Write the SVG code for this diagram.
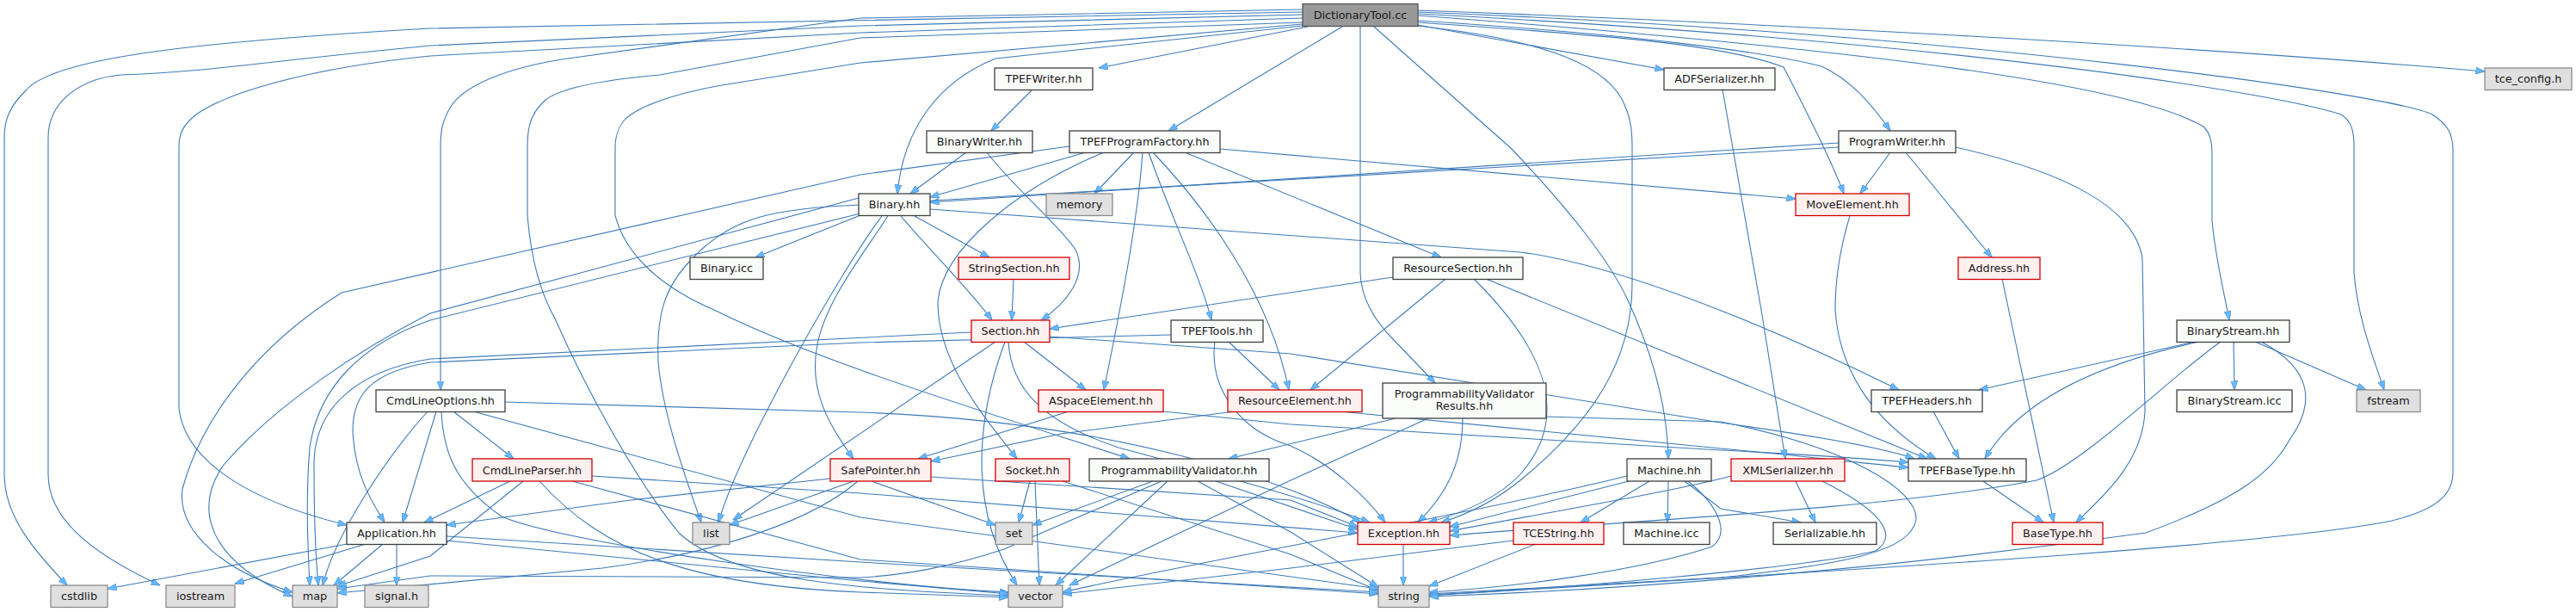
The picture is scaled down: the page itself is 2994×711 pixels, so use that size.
<svg xmlns="http://www.w3.org/2000/svg" width="2994" height="711" viewBox="0 0 2994 711">
<defs>
<marker id="a" viewBox="0 0 11 8" markerWidth="11" markerHeight="8" refX="10.5" refY="4" orient="auto" markerUnits="userSpaceOnUse">
<path d="M0,0 L11,4 L0,8 z" fill="#63b8ff" stroke="#3f7fbf" stroke-width="0.6"/>
</marker>
<style>
.e{fill:none;stroke:#3d7ab8;stroke-width:1.1;marker-end:url(#a)}
.n rect{fill:#fafcfa;stroke:#404040;stroke-width:1.3}
.r rect{fill:#fff0f0;stroke:#d00000;stroke-width:1.3}
.g rect{fill:#e0e0e0;stroke:#8c8c8c;stroke-width:1.3}
.root rect{fill:#999999;stroke:#555555;stroke-width:1.3}
text{font-family:"DejaVu Sans","Liberation Sans",sans-serif;font-size:12.8px;fill:#1a1a1a;text-anchor:middle}
</style>
</defs>
<rect width="2994" height="711" fill="white"/>
<g id="edges">
<path class="e" d="M1514,14 L500,33 C200,50 60,70 30,105 C10,125 5,140 5,160 L5,551 C5,600 40,640 78,680"/>
<path class="e" d="M1514,17 L1000,30 L500,53 C300,72 240,84 140,87 C90,92 56,120 56,160 L56,551 C56,600 100,640 186,680"/>
<path class="e" d="M1514,21 L1000,38 L500,65 C350,80 260,110 228,133 C213,145 208,155 208,170 L208,474 C215,540 300,585 403,610"/>
<path class="e" d="M1514,11 L1000,21 L667,67 C600,76 545,95 525,122 C515,138 512,150 512,170 L512,453"/>
<path class="e" d="M1514,26 L1000,44 L767,87 C700,93 650,102 633,117 C617,132 613,147 613,170 L613,250 C617,300 628,340 645,370 C680,450 740,560 790,620 C850,675 1000,685 1172,692"/>
<path class="e" d="M1514,28 L1000,73 L833,100 C780,110 742,124 727,138 C718,148 715,158 715,172 L715,250 C725,290 760,330 830,360 C950,420 1150,480 1313,533"/>
<path class="e" d="M1514,30 L1157,68 C1090,95 1050,150 1043,225"/>
<path class="e" d="M1520,31 L1277,79"/>
<path class="e" d="M1560,31 L1358,152"/>
<path class="e" d="M1581,31 L1581,317 C1582,350 1600,375 1620,395 L1668,445"/>
<path class="e" d="M1597,31 L1757,173 C1820,240 1870,300 1893,351 C1920,410 1938,470 1939,533"/>
<path class="e" d="M1648,30 C1780,45 1860,70 1885,115 C1895,135 1897,150 1897,170 L1897,330 C1897,420 1850,490 1767,558 C1740,580 1710,596 1675,607"/>
<path class="e" d="M1648,29 L1934,81"/>
<path class="e" d="M1648,26 C1850,40 2000,50 2073,78 C2100,130 2130,190 2143,225"/>
<path class="e" d="M1648,24 C1900,40 2050,60 2117,77 C2150,92 2175,120 2197,152"/>
<path class="e" d="M1648,12 C2000,25 2500,50 2888,83"/>
<path class="e" d="M1648,18 C2200,60 2480,100 2561,147 C2569,155 2571,165 2571,180 L2571,257 C2575,300 2585,340 2591,372"/>
<path class="e" d="M1648,16 C2300,50 2650,110 2721,133 C2732,140 2736,150 2736,170 L2736,317 C2740,370 2760,420 2771,453"/>
<path class="e" d="M1648,14 C2300,40 2780,110 2827,133 C2845,145 2851,155 2851,175 L2851,548 C2851,570 2840,590 2780,605 C2600,640 2000,670 1661,692"/>
<path class="e" d="M1200,104 L1152,152"/>
<path class="e" d="M1123,177 L1058,225"/>
<path class="e" d="M1147,177 C1180,220 1230,260 1250,290 C1265,320 1240,352 1210,372"/>
<path class="e" d="M1262,177 L1081,229"/>
<path class="e" d="M1318,177 L1272,225"/>
<path class="e" d="M1418,173 L2087,231"/>
<path class="e" d="M1377,177 L1675,299"/>
<path class="e" d="M1328,177 C1322,260 1302,360 1283,453"/>
<path class="e" d="M1335,177 C1360,250 1395,320 1408,372"/>
<path class="e" d="M1340,177 C1400,240 1475,340 1498,453"/>
<path class="e" d="M1283,177 C1180,220 1095,290 1090,351 C1090,420 1140,480 1182,533"/>
<path class="e" d="M1243,170 L1000,203 L397,340 C300,401 235,484 212,568 C205,620 265,665 340,688"/>
<path class="e" d="M2137,166 L1081,235"/>
<path class="e" d="M2137,171 L1000,238 C900,242 850,252 805,300 C770,335 763,370 765,420 C770,480 795,550 815,607"/>
<path class="e" d="M2197,177 L2162,225"/>
<path class="e" d="M2215,177 L2315,299"/>
<path class="e" d="M2273,171 C2400,200 2480,240 2490,300 L2493,478 C2490,540 2440,580 2413,607"/>
<path class="e" d="M1000,250 L878,299"/>
<path class="e" d="M1063,251 L1150,299"/>
<path class="e" d="M1047,251 C1080,290 1130,340 1153,372"/>
<path class="e" d="M1032,251 C1000,300 960,350 950,400 C940,450 960,490 992,533"/>
<path class="e" d="M1025,251 C980,310 860,520 835,607"/>
<path class="e" d="M998,230 L500,364 C420,405 320,470 260,540 C225,590 240,650 340,693"/>
<path class="e" d="M1000,248 L500,372 C420,400 370,450 360,520 C355,580 358,640 360,680"/>
<path class="e" d="M1081,243 L1767,293 C1900,310 2100,400 2207,453"/>
<path class="e" d="M1178,324 L1176,372"/>
<path class="e" d="M1619,322 L1220,382"/>
<path class="e" d="M1680,324 L1523,453"/>
<path class="e" d="M1713,324 C1790,400 1830,480 1767,551 C1740,580 1700,596 1660,607"/>
<path class="e" d="M1727,324 L2240,533"/>
<path class="e" d="M1190,397 L1262,453"/>
<path class="e" d="M1157,397 L852,604"/>
<path class="e" d="M1168,397 C1130,500 1130,600 1182,680"/>
<path class="e" d="M1172,397 C1175,450 1210,490 1300,520 C1450,560 1550,590 1592,607"/>
<path class="e" d="M1129,386 L500,417 C420,430 365,470 365,540 C365,600 367,650 370,680"/>
<path class="e" d="M1220,391 L1500,411 L2000,491 C2100,505 2190,520 2225,533"/>
<path class="e" d="M1361,389 L1000,398 L500,421 C430,432 410,460 410,500 C412,550 430,580 447,607"/>
<path class="e" d="M1428,397 L1487,453"/>
<path class="e" d="M1412,397 C1405,450 1440,500 1500,518 C1550,540 1590,580 1610,607"/>
<path class="e" d="M1242,478 L1067,533"/>
<path class="e" d="M1352,478 L1500,493 L2000,523 C2100,528 2180,534 2218,537"/>
<path class="e" d="M1435,478 L1233,504 L1082,536"/>
<path class="e" d="M1557,478 L2000,521 C2100,530 2180,540 2218,543"/>
<path class="e" d="M1622,486 L1428,533"/>
<path class="e" d="M1700,486 C1700,540 1680,575 1648,607"/>
<path class="e" d="M1660,486 L1500,558 L1243,680"/>
<path class="e" d="M1797,484 L2000,490 C2150,520 2230,570 2227,604 C2220,640 2150,655 2000,671 L1661,690"/>
<path class="e" d="M1340,559 L1200,610"/>
<path class="e" d="M1357,559 L1227,680"/>
<path class="e" d="M1392,559 L1500,618 L1602,682"/>
<path class="e" d="M1413,559 L1578,615"/>
<path class="e" d="M1350,559 L1167,638 C1100,660 1050,668 1000,671 L500,669 L392,684"/>
<path class="e" d="M965,556 L733,581 L519,610"/>
<path class="e" d="M992,559 L848,610"/>
<path class="e" d="M1013,559 L1157,610"/>
<path class="e" d="M1082,554 L1500,581 L1578,612"/>
<path class="e" d="M997,559 C950,600 850,640 700,660 L392,689"/>
<path class="e" d="M1197,559 L1184,607"/>
<path class="e" d="M1203,559 L1208,680"/>
<path class="e" d="M1235,559 L1500,644 L1602,686"/>
<path class="e" d="M527,478 L597,533"/>
<path class="e" d="M507,478 L468,607"/>
<path class="e" d="M497,478 C450,530 390,620 375,680"/>
<path class="e" d="M513,478 C515,520 525,560 583,600 C650,630 1000,680 1172,688"/>
<path class="e" d="M550,478 L1000,601 L1602,684"/>
<path class="e" d="M587,467 L1000,479 C1300,490 1500,560 1582,607"/>
<path class="e" d="M593,559 L493,607"/>
<path class="e" d="M608,559 L500,646 L392,681"/>
<path class="e" d="M627,559 C700,640 800,680 1000,688 L1172,694"/>
<path class="e" d="M665,559 L1000,650 L1602,690"/>
<path class="e" d="M688,553 L1000,573 L1578,619"/>
<path class="e" d="M403,632 L125,684"/>
<path class="e" d="M425,632 L273,678"/>
<path class="e" d="M445,632 L388,680"/>
<path class="e" d="M461,632 L461,680"/>
<path class="e" d="M519,623 L1000,653 L1602,688"/>
<path class="e" d="M519,628 L1000,675 L1172,690"/>
<path class="e" d="M1631,632 L1631,680"/>
<path class="e" d="M1785,632 L1661,681"/>
<path class="e" d="M1759,628 L1500,660 L1235,690"/>
<path class="e" d="M1893,559 L1685,612"/>
<path class="e" d="M1917,559 L1837,607"/>
<path class="e" d="M1939,559 L1938,607"/>
<path class="e" d="M1958,559 L2000,591 L2093,607"/>
<path class="e" d="M1962,559 C2000,590 2010,620 1990,635 C1900,665 1750,683 1661,688"/>
<path class="e" d="M1891,553 C1700,600 1400,650 1235,688"/>
<path class="e" d="M2012,553 C1950,570 1800,595 1685,617"/>
<path class="e" d="M2087,559 L2110,607"/>
<path class="e" d="M2118,559 C2180,590 2210,620 2180,640 C2100,660 1800,685 1661,691"/>
<path class="e" d="M2002,104 L2047,360 L2075,533"/>
<path class="e" d="M2150,251 C2135,300 2133,340 2133,360 C2137,420 2167,484 2250,533"/>
<path class="e" d="M2327,324 L2387,607"/>
<path class="e" d="M2247,478 L2277,533"/>
<path class="e" d="M2305,559 L2375,607"/>
<path class="e" d="M2596,397 L2597,453"/>
<path class="e" d="M2621,397 L2750,453"/>
<path class="e" d="M2551,397 L2300,453"/>
<path class="e" d="M2556,397 C2450,420 2350,460 2307,533"/>
<path class="e" d="M2581,397 C2520,440 2420,540 2367,558 C2200,590 1900,605 1685,622"/>
<path class="e" d="M2628,397 C2690,430 2690,470 2661,511 C2640,550 2600,580 2494,619 C2200,660 1900,685 1661,693"/>
</g>
<g id="n_root" class="root"><rect x="1514" y="4.5" width="134" height="26"/><text x="1581" y="22">DictionaryTool.cc</text></g>
<g id="n_tpefwriter" class="n"><rect x="1156" y="79" width="114" height="25.5"/><text x="1213" y="96.4">TPEFWriter.hh</text></g>
<g id="n_adfserializer" class="n"><rect x="1934" y="79" width="129" height="25.5"/><text x="1998.5" y="96.4">ADFSerializer.hh</text></g>
<g id="n_tceconfig" class="g"><rect x="2888" y="79" width="101" height="25.5"/><text x="2938.5" y="96.4">tce_config.h</text></g>
<g id="n_binarywriter" class="n"><rect x="1077" y="152" width="123" height="25.5"/><text x="1138.5" y="169.4">BinaryWriter.hh</text></g>
<g id="n_tpefprogramfactory" class="n"><rect x="1243" y="152" width="175" height="25.5"/><text x="1330.5" y="169.4">TPEFProgramFactory.hh</text></g>
<g id="n_programwriter" class="n"><rect x="2137" y="152" width="136" height="25.5"/><text x="2205" y="169.4">ProgramWriter.hh</text></g>
<g id="n_binary" class="n"><rect x="998" y="225" width="83" height="25.5"/><text x="1039.5" y="242.4">Binary.hh</text></g>
<g id="n_memory" class="g"><rect x="1216" y="225" width="77" height="25.5"/><text x="1254.5" y="242.4">memory</text></g>
<g id="n_moveelement" class="r"><rect x="2087" y="225" width="132" height="25.5"/><text x="2153" y="242.4">MoveElement.hh</text></g>
<g id="n_binaryicc" class="n"><rect x="802" y="299" width="85" height="25.5"/><text x="844.5" y="316.4">Binary.icc</text></g>
<g id="n_stringsection" class="r"><rect x="1114" y="299" width="129" height="25.5"/><text x="1178.5" y="316.4">StringSection.hh</text></g>
<g id="n_resourcesection" class="n"><rect x="1619" y="299" width="151" height="25.5"/><text x="1694.5" y="316.4">ResourceSection.hh</text></g>
<g id="n_address" class="r"><rect x="2276" y="299" width="95" height="25.5"/><text x="2323.5" y="316.4">Address.hh</text></g>
<g id="n_section" class="r"><rect x="1129" y="372" width="91" height="25.5"/><text x="1174.5" y="389.4">Section.hh</text></g>
<g id="n_tpeftools" class="n"><rect x="1361" y="372" width="107" height="25.5"/><text x="1414.5" y="389.4">TPEFTools.hh</text></g>
<g id="n_binarystream" class="n"><rect x="2530" y="372" width="131" height="25.5"/><text x="2595.5" y="389.4">BinaryStream.hh</text></g>
<g id="n_cmdlineoptions" class="n"><rect x="437" y="453" width="150" height="25.5"/><text x="512" y="470.4">CmdLineOptions.hh</text></g>
<g id="n_aspaceelement" class="r"><rect x="1207" y="453" width="145" height="25.5"/><text x="1279.5" y="470.4">ASpaceElement.hh</text></g>
<g id="n_resourceelement" class="r"><rect x="1427" y="453" width="156" height="25.5"/><text x="1505" y="470.4">ResourceElement.hh</text></g>
<g id="n_pvresults" class="n"><rect x="1607" y="445" width="190" height="41"/><text x="1702" y="461.5">ProgrammabilityValidator</text><text x="1702" y="476">Results.hh</text></g>
<g id="n_tpefheaders" class="n"><rect x="2175" y="453" width="129" height="25.5"/><text x="2239.5" y="470.4">TPEFHeaders.hh</text></g>
<g id="n_binarystreamicc" class="n"><rect x="2530" y="453" width="134" height="25.5"/><text x="2597" y="470.4">BinaryStream.icc</text></g>
<g id="n_fstream" class="g"><rect x="2739" y="453" width="74" height="25.5"/><text x="2776" y="470.4">fstream</text></g>
<g id="n_cmdlineparser" class="r"><rect x="549" y="533" width="139" height="26"/><text x="618.5" y="550.6">CmdLineParser.hh</text></g>
<g id="n_safepointer" class="r"><rect x="965" y="533" width="117" height="26"/><text x="1023.5" y="550.6">SafePointer.hh</text></g>
<g id="n_socket" class="r"><rect x="1157" y="533" width="86" height="26"/><text x="1200" y="550.6">Socket.hh</text></g>
<g id="n_pv" class="n"><rect x="1266" y="533" width="209" height="26"/><text x="1370.5" y="550.6">ProgrammabilityValidator.hh</text></g>
<g id="n_machine" class="n"><rect x="1891" y="533" width="98" height="26"/><text x="1940" y="550.6">Machine.hh</text></g>
<g id="n_xmlserializer" class="r"><rect x="2012" y="533" width="132" height="26"/><text x="2078" y="550.6">XMLSerializer.hh</text></g>
<g id="n_tpefbasetype" class="n"><rect x="2218" y="533" width="137" height="26"/><text x="2286.5" y="550.6">TPEFBaseType.hh</text></g>
<g id="n_application" class="n"><rect x="403" y="607" width="116" height="25.5"/><text x="461" y="624.4">Application.hh</text></g>
<g id="n_list" class="g"><rect x="805" y="607" width="43" height="25.5"/><text x="826.5" y="624.4">list</text></g>
<g id="n_set" class="g"><rect x="1157" y="607" width="43" height="25.5"/><text x="1178.5" y="624.4">set</text></g>
<g id="n_exception" class="r"><rect x="1578" y="607" width="107" height="25.5"/><text x="1631.5" y="624.4">Exception.hh</text></g>
<g id="n_tcestring" class="r"><rect x="1759" y="607" width="105" height="25.5"/><text x="1811.5" y="624.4">TCEString.hh</text></g>
<g id="n_machineicc" class="n"><rect x="1887" y="607" width="100" height="25.5"/><text x="1937" y="624.4">Machine.icc</text></g>
<g id="n_serializable" class="n"><rect x="2061" y="607" width="120" height="25.5"/><text x="2121" y="624.4">Serializable.hh</text></g>
<g id="n_basetype" class="r"><rect x="2339" y="607" width="105" height="25.5"/><text x="2391.5" y="624.4">BaseType.hh</text></g>
<g id="n_cstdlib" class="g"><rect x="59" y="680" width="66" height="25.5"/><text x="92" y="697.4">cstdlib</text></g>
<g id="n_iostream" class="g"><rect x="193" y="680" width="80" height="25.5"/><text x="233" y="697.4">iostream</text></g>
<g id="n_map" class="g"><rect x="340" y="680" width="52" height="25.5"/><text x="366" y="697.4">map</text></g>
<g id="n_signal" class="g"><rect x="424" y="680" width="74" height="25.5"/><text x="461" y="697.4">signal.h</text></g>
<g id="n_vector" class="g"><rect x="1172" y="680" width="63" height="25.5"/><text x="1203.5" y="697.4">vector</text></g>
<g id="n_string" class="g"><rect x="1602" y="680" width="59" height="25.5"/><text x="1631.5" y="697.4">string</text></g>
</svg>
